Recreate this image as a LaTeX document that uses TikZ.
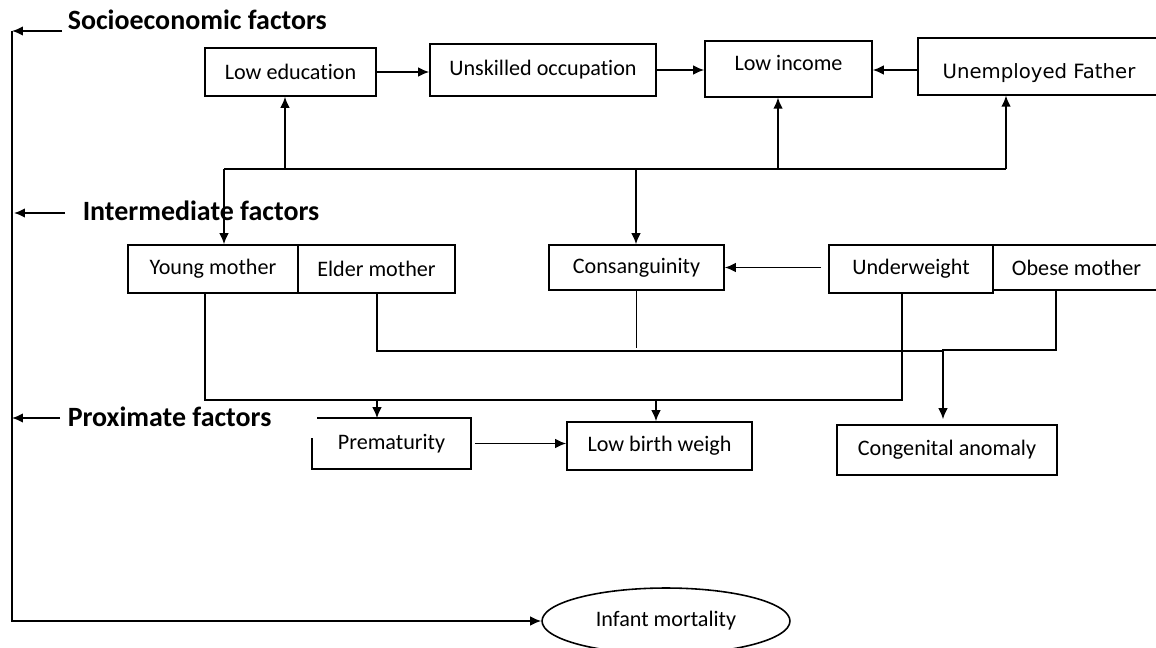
\documentclass[tikz,border=0pt]{standalone}
\usepackage{fontspec}
\setmainfont{Carlito}[Ligatures=NoCommon]
\newfontfamily\dejavu{DejaVu Sans}
\usetikzlibrary{arrows.meta, shapes.geometric}
\tikzset{
  Kasten/.style 2 args={draw, minimum width=#1*0.02cm, minimum height=#2*0.02cm,
    inner sep=0pt, font=\fontsize{12.6}{15}\selectfont}, % box, size in px
  Titel/.style={anchor=west, inner sep=0pt, font=\bfseries\fontsize{15.9}{19}\selectfont},
  Linie/.style={line width=0.9pt}
}

\begin{document}
\begin{tikzpicture}[x=0.02cm, y=-0.02cm, >={Latex[length=0.22cm, width=0.19cm]}, Linie]
\useasboundingbox (0,0) rectangle (1156,647);

% % top row
\node[Kasten={171}{48}] (edu) at (290.5,72) {Low education};
\node[Kasten={226}{52}] (occ) at (543,70) {Unskilled occupation};
\node[Kasten={167}{56}, anchor=north, text height=0.6cm, text depth=0.52cm] (inc) at (788.5,40) {Low income};
\node[Kasten={242}{57}, anchor=north, text height=0.82cm, text depth=0.32cm,
  font=\dejavu\fontsize{11.2}{14}\selectfont] (father) at (1039,37) {Unemployed Father};

% % middle row
\node[Kasten={170}{48}] (young) at (213,269) {Young mother};
\node[Kasten={157}{48}] (elder) at (376.5,269) {Elder mother};
\node[Kasten={175}{45}] (cons) at (636.5,267.5) {Consanguinity};
\node[Kasten={164}{48}] (under) at (911,269) {Underweight};
\node[Kasten={167}{45}] (obese) at (1076.5,267.5) {Obese mother};

% % bottom row
\node[Kasten={157}{49}, draw=none] (prem) at (391.5,443.5) {Prematurity};
\draw ([xshift=0.1cm]prem.north west) -- (prem.north east) -- (prem.south east)
  -- (prem.south west) -- ([yshift=-0.4cm]prem.north west);
\node[Kasten={185}{48}] (lbw) at (659.5,446) {Low birth weigh};
\node[Kasten={220}{50}] (cong) at (947,450) {Congenital anomaly};

\node[draw, ellipse, minimum width=4.96cm, minimum height=1.32cm, inner sep=0pt,
  font=\fontsize{12.6}{15}\selectfont] (infant) at (666,621) {Infant mortality};

% % levels
\node[Titel] (soz) at (67,20) {Socioeconomic factors};
\node[Titel] (inter) at (82,211) {Intermediate factors};
\node[Titel] (prox) at (67,417) {Proximate factors};

\coordinate (l1) at (12,31);
\coordinate (l3) at (14,213);
\coordinate (l4) at (12,418);
\draw[->] (l1) |- (infant.west);
\draw[->, shorten <=0.1cm] (soz.west |- l1) -- (l1);
\draw[->, shorten <=0.34cm] (inter.west |- l3) -- (l3);
\draw[->, shorten <=0.14cm] (prox.west |- l4) -- (l4);

% Pfeile oben
\draw[->] (edu.east) -- (occ.west |- edu.east);
\draw[->] (occ.east) -- (inc.west |- occ.east);
\draw[->] (father.west |- occ.east) -- (inc.east |- occ.east);

\coordinate (k1) at (224,169);
\coordinate (k2) at (285,169);
\coordinate (k3) at (636,169);
\coordinate (k4) at (778,169);
\coordinate (k5) at (1006,169);
\draw (k1) -- (k5);
\draw[->] (k1) -- (k1 |- young.north);
\draw[->] (k2) -- (k2 |- edu.south);
\draw[->] (k3) -- (k3 |- cons.north);
\draw[->] (k4) -- (k4 |- inc.south);
\draw[->] (k5) -- (k5 |- father.south);

% Pfeile unten
\draw[->, shorten <=0.14cm] (under.west |- cons.east) -- (cons.east);

\coordinate (m1) at (377,351);
\coordinate (m2) at (943,351);
\coordinate (m3) at (1056,350);
\draw (m1 |- elder.south) -- (m1) -- (m2);
\draw (cons.south) -- ([yshift=0.06cm]cons.south |- m1);
\draw[->, shorten >=0.1cm] (m3 |- obese.south) -- (m3) -- (m2 |- m3) -- (m2 |- cong.north);

\coordinate (u1) at (205,400);
\coordinate (u2) at (902,400);
\coordinate (u3) at (377,400);
\coordinate (u4) at (656,400);
\draw (u1 |- young.south) -- (u1) -- (u2) -- (u2 |- under.south);
\draw[->] (u3) -- (u3 |- prem.north);
\draw[->] (u4) -- (u4 |- lbw.north);
\draw[->, shorten <=0.08cm] (prem.east) -- (lbw.west |- prem.east);

\end{tikzpicture}
\end{document}
